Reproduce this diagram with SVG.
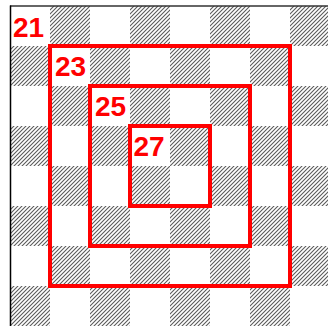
<svg xmlns="http://www.w3.org/2000/svg" width="328" height="326" viewBox="0 0 328 326">
<defs>
<pattern id="hatch" patternUnits="userSpaceOnUse" width="4" height="4">
<path d="M-1,1 l2,-2 M0,4 l4,-4 M3,5 l2,-2" stroke="#5a5a5a" stroke-width="1.1"/>
</pattern>
<style>
.h{fill:url(#hatch)}
.sq{fill:none;stroke:#ff0000;stroke-width:4}
.lb{font-family:"Liberation Sans",Arial,sans-serif;font-weight:bold;font-size:28px;fill:#ff0000}
</style>
</defs>
<rect width="328" height="326" fill="#fff"/>
<g id="board">
<rect class="h" x="50" y="6" width="40" height="40"/><rect class="h" x="130" y="6" width="40" height="40"/><rect class="h" x="210" y="6" width="40" height="40"/><rect class="h" x="290" y="6" width="40" height="40"/>
<rect class="h" x="10" y="46" width="40" height="40"/><rect class="h" x="90" y="46" width="40" height="40"/><rect class="h" x="170" y="46" width="40" height="40"/><rect class="h" x="250" y="46" width="40" height="40"/>
<rect class="h" x="50" y="86" width="40" height="40"/><rect class="h" x="130" y="86" width="40" height="40"/><rect class="h" x="210" y="86" width="40" height="40"/><rect class="h" x="290" y="86" width="40" height="40"/>
<rect class="h" x="10" y="126" width="40" height="40"/><rect class="h" x="90" y="126" width="40" height="40"/><rect class="h" x="170" y="126" width="40" height="40"/><rect class="h" x="250" y="126" width="40" height="40"/>
<rect class="h" x="50" y="166" width="40" height="40"/><rect class="h" x="130" y="166" width="40" height="40"/><rect class="h" x="210" y="166" width="40" height="40"/><rect class="h" x="290" y="166" width="40" height="40"/>
<rect class="h" x="10" y="206" width="40" height="40"/><rect class="h" x="90" y="206" width="40" height="40"/><rect class="h" x="170" y="206" width="40" height="40"/><rect class="h" x="250" y="206" width="40" height="40"/>
<rect class="h" x="50" y="246" width="40" height="40"/><rect class="h" x="130" y="246" width="40" height="40"/><rect class="h" x="210" y="246" width="40" height="40"/><rect class="h" x="290" y="246" width="40" height="40"/>
<rect class="h" x="10" y="286" width="40" height="40"/><rect class="h" x="90" y="286" width="40" height="40"/><rect class="h" x="170" y="286" width="40" height="40"/><rect class="h" x="250" y="286" width="40" height="40"/>
<line x1="10" y1="6" x2="328" y2="6" stroke="#333" stroke-width="1.5"/>
<line x1="10.5" y1="5.5" x2="10.5" y2="326" stroke="#000" stroke-width="1.5"/>
</g>
<g id="n21"><text class="lb" x="13" y="36.5">21</text></g>
<g id="n23"><rect class="sq" x="50" y="46" width="240" height="240"/><text class="lb" x="55" y="76">23</text></g>
<g id="n25"><rect class="sq" x="90" y="86" width="160" height="160"/><text class="lb" x="95" y="116">25</text></g>
<g id="n27"><rect class="sq" x="130" y="126" width="80" height="80"/><text class="lb" x="133.5" y="156">27</text></g>
</svg>
